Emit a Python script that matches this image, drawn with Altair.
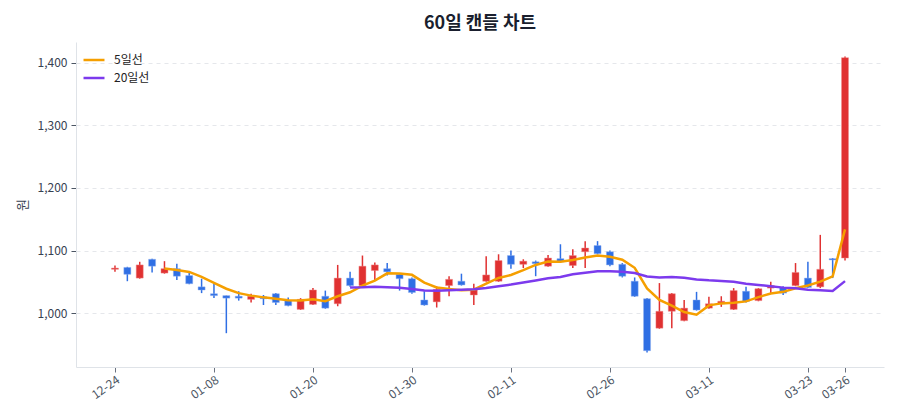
import altair as alt
import pandas as pd
import json

dates = ["12-24", "12-26", "12-27", "12-30", "01-02", "01-03", "01-06", "01-07", "01-08",
         "01-09", "01-10", "01-13", "01-14", "01-15", "01-16", "01-17", "01-20",
         "01-21", "01-22", "01-23", "01-24", "01-27", "01-28", "01-29", "01-30",
         "01-31", "02-03", "02-04", "02-05", "02-06", "02-07", "02-10", "02-11",
         "02-12", "02-13", "02-14", "02-17", "02-18", "02-19", "02-20", "02-26",
         "02-27", "02-28", "03-03", "03-04", "03-05", "03-06", "03-07", "03-11",
         "03-12", "03-13", "03-14", "03-17", "03-18", "03-19", "03-20", "03-23",
         "03-24", "03-25", "03-26"]

opens = [1070, 1073, 1056, 1086, 1064, 1071, 1060, 1042, 1031, 1028,
         1027, 1022, 1026, 1031, 1020, 1006, 1014, 1027, 1015, 1056,
         1044, 1068, 1071, 1062, 1055, 1021, 1018, 1044, 1051, 1029,
         1051, 1051, 1092, 1078, 1082, 1075, 1087, 1076, 1098, 1108,
         1098, 1078, 1051, 1023, 976, 1003, 988, 1021, 1008, 1015,
         1006, 1035, 1020, 1040, 1041, 1044, 1056, 1042, 1087, 1088]
highs = [1076, 1074, 1082, 1087, 1083, 1079, 1065, 1055, 1047, 1028,
         1035, 1031, 1029, 1032, 1025, 1024, 1040, 1036, 1077, 1066,
         1092, 1081, 1080, 1064, 1057, 1035, 1043, 1059, 1063, 1047,
         1091, 1094, 1100, 1086, 1084, 1093, 1110, 1102, 1115, 1115,
         1100, 1080, 1057, 1024, 1048, 1032, 1021, 1034, 1026, 1027,
         1040, 1042, 1040, 1050, 1043, 1080, 1082, 1125, 1088, 1410]
lows = [1066, 1051, 1055, 1065, 1063, 1053, 1046, 1032, 1024, 968,
        1020, 1017, 1013, 1013, 1011, 1005, 1013, 1007, 1011, 1042,
        1042, 1053, 1060, 1036, 1031, 1012, 1009, 1027, 1044, 1013,
        1050, 1050, 1071, 1072, 1059, 1074, 1081, 1072, 1072, 1094,
        1075, 1057, 1026, 937, 975, 976, 987, 1004, 1007, 1010,
        1005, 1017, 1019, 1032, 1029, 1043, 1040, 1040, 1056, 1084]
closes = [1072, 1062, 1077, 1075, 1071, 1059, 1047, 1037, 1028, 1024,
          1024, 1027, 1023, 1017, 1012, 1022, 1037, 1008, 1056, 1044,
          1075, 1077, 1066, 1055, 1033, 1013, 1038, 1054, 1045, 1037,
          1061, 1084, 1078, 1083, 1079, 1088, 1082, 1092, 1104, 1095,
          1077, 1059, 1027, 940, 1003, 1031, 1008, 1005, 1015, 1019,
          1036, 1019, 1039, 1044, 1032, 1065, 1041, 1070, 1085, 1408]

tick_labels = ["12-24", "01-08", "01-20", "01-30", "02-11", "02-26", "03-11", "03-23", "03-26"]
series_names = ["5일선", "20일선"]
series_colors = ["#f59f00", "#7c3aed"]
up_color = "#e03131"
down_color = "#2f6fe4"

df = pd.DataFrame({"idx": list(range(len(dates))), "date": dates, "open": opens,
                   "high": highs, "low": lows, "close": closes})

tick_idx = [dates.index(t) for t in tick_labels]
label_expr = json.dumps(dates) + "[round(datum.value)]"

FONT = "Noto Sans CJK KR"

x_scale = alt.Scale(domain=[-3.15, len(dates) - 1 + 3.15], nice=False, zero=False, padding=0)
x_axis = alt.Axis(values=tick_idx, labelExpr=label_expr, labelAngle=-35, title=None,
                  domainColor="#dfe3e8", tickColor="#6b7280", tickSize=5,
                  labelColor="#4b5563", labelFontSize=12, grid=False, labelPadding=2)
y_scale = alt.Scale(domain=[914, 1433], nice=False, zero=False, padding=0)
y_axis = alt.Axis(values=[1000, 1100, 1200, 1300, 1400],
                  labelExpr="format(datum.value, ',')", title="원",
                  titleFontSize=13, titleFontWeight="normal", titleColor="#374151",
                  titlePadding=8, labelColor="#374151", labelFontSize=12,
                  domainColor="#dfe3e8", tickColor="#4b5563", tickSize=5,
                  gridColor="#e5e7eb", gridDash=[4, 4], labelPadding=4)

color_cond = alt.condition("datum.close >= datum.open", alt.value(up_color), alt.value(down_color))

base = alt.Chart(df)

wicks = base.mark_rule(strokeWidth=1.5).encode(
    x=alt.X("idx:Q", scale=x_scale, axis=x_axis),
    y=alt.Y("low:Q", scale=y_scale, axis=y_axis),
    y2="high:Q",
    color=color_cond,
)

bodies = base.mark_bar(size=7, strokeWidth=1, strokeOpacity=0.45).encode(
    x=alt.X("idx:Q", scale=x_scale, axis=x_axis),
    y=alt.Y("open:Q", scale=y_scale, axis=y_axis),
    y2="close:Q",
    color=color_cond,
    stroke=alt.condition("datum.close >= datum.open", alt.value("#f08a8a"), alt.value("#8fb0f0")),
)

lines = base.transform_window(
    ma5="mean(close)", n5="count(close)", frame=[-4, 0], sort=[{"field": "idx"}]
).transform_window(
    ma20="mean(close)", n20="count(close)", frame=[-19, 0], sort=[{"field": "idx"}]
).transform_calculate(
    m5="datum.n5 >= 5 ? datum.ma5 : null",
    m20="datum.n20 >= 20 ? datum.ma20 : null",
).transform_fold(
    ["m5", "m20"], as_=["key", "value"]
).transform_filter(
    "datum.value != null"
).transform_calculate(
    series="datum.key == 'm5' ? '5일선' : '20일선'"
).mark_line(strokeWidth=2.5).encode(
    x=alt.X("idx:Q", scale=x_scale, axis=x_axis),
    y=alt.Y("value:Q", scale=y_scale, axis=y_axis),
    color=alt.Color("series:N", scale=alt.Scale(domain=series_names, range=series_colors),
                    legend=alt.Legend(title=None, orient="top-left", offset=6,
                                      symbolType="stroke", symbolStrokeWidth=2.5,
                                      symbolSize=440, labelFontSize=12, labelOffset=8,
                                      labelColor="#222222", rowPadding=0)),
    detail="series:N",
    order="idx:Q",
)

chart = alt.layer(wicks, bodies, lines).properties(
    width=808, height=325,
    title=alt.TitleParams("60일 캔들 차트", fontSize=18, fontWeight="bold", color="#1a1f2e",
                          anchor="middle", offset=9, font=FONT),
    padding={"left": 68, "top": 34, "right": 8, "bottom": 45},
    autosize=alt.AutoSizeParams(type="none"),
).configure(
    font=FONT,
).configure_view(
    stroke=None,
)

chart.save("out.html", embed_options={"renderer": "svg", "actions": False})
